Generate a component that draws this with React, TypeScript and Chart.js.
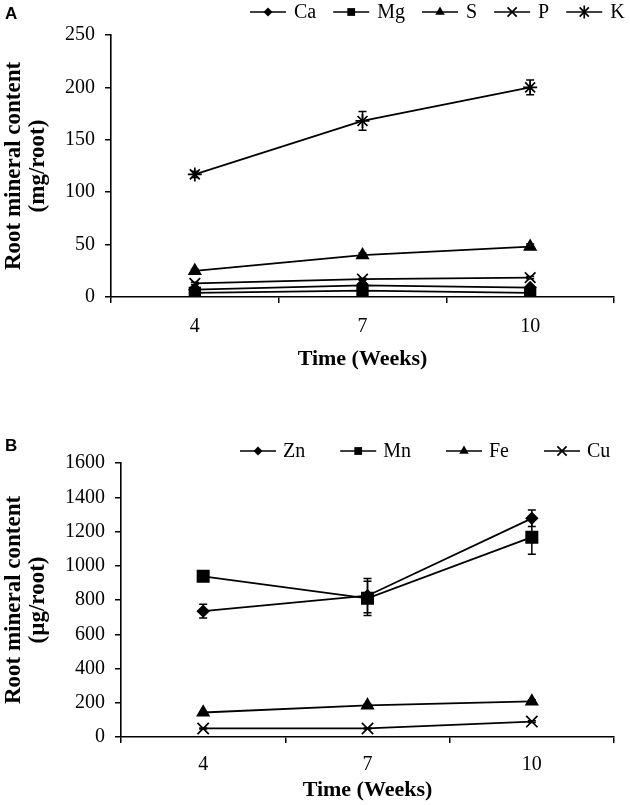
import React, { useEffect, useRef } from 'react';
import { Chart, registerables } from 'chart.js';

Chart.register(...registerables);

// ---------- data ----------
const weeks = ['4', '7', '10'];

// Panel A: root macro-mineral content (mg/root)
const caValues = [7, 11, 9];
const caErrors = [1, 1, 1];
const mgValues = [4, 6, 4];
const mgErrors = [0.5, 0.5, 0.5];
const sValues = [25, 40, 48];
const sErrors = [1.5, 2, 2.5];
const pValues = [13, 17, 18.5];
const pErrors = [1, 1, 1];
const kValues = [117, 168, 200];
const kErrors = [3, 9, 7];
const aTickMin = 0;
const aTickMax = 250;
const aTickStep = 50;

// Panel B: root micro-mineral content (µg/root)
const znValues = [735, 825, 1277];
const znErrors = [40, 100, 48];
const mnValues = [938, 810, 1167];
const mnErrors = [10, 100, 100];
const feValues = [143, 185, 208];
const feErrors = [5, 6, 8];
const cuValues = [50, 50, 90];
const cuErrors = [3, 3, 5];
const bTickMin = 0;
const bTickMax = 1600;
const bTickStep = 200;

const BLACK = '#000';
const SERIF = '"Liberation Serif", "Times New Roman", serif';

function drawMarker(ctx: CanvasRenderingContext2D, style: string, x: number, y: number, r: number) {
  ctx.beginPath();
  if (style === 'rectRot') {
    ctx.moveTo(x - r, y);
    ctx.lineTo(x, y - r);
    ctx.lineTo(x + r, y);
    ctx.lineTo(x, y + r);
    ctx.closePath();
    ctx.fill();
  } else if (style === 'rect') {
    const s = r * Math.SQRT1_2;
    ctx.rect(x - s, y - s, 2 * s, 2 * s);
    ctx.fill();
  } else if (style === 'triangle') {
    const a = (2 * Math.PI) / 3;
    ctx.moveTo(x, y - r);
    ctx.lineTo(x + Math.sin(a) * r, y - Math.cos(a) * r);
    ctx.lineTo(x + Math.sin(2 * a) * r, y - Math.cos(2 * a) * r);
    ctx.closePath();
    ctx.fill();
  } else if (style === 'crossRot' || style === 'star') {
    const s = r * Math.SQRT1_2;
    ctx.moveTo(x - s, y - s);
    ctx.lineTo(x + s, y + s);
    ctx.moveTo(x - s, y + s);
    ctx.lineTo(x + s, y - s);
    if (style === 'star') {
      ctx.moveTo(x, y - r);
      ctx.lineTo(x, y + r);
    }
    ctx.stroke();
  }
}

const errorBarPlugin = {
  id: 'errorBars',
  afterDatasetsDraw(chart: any) {
    const ctx = chart.ctx;
    const yScale = chart.scales.y;
    ctx.save();
    ctx.strokeStyle = BLACK;
    ctx.lineWidth = 1.5;
    chart.data.datasets.forEach((ds: any, i: number) => {
      const meta = chart.getDatasetMeta(i);
      (ds.errors || []).forEach((e: number, j: number) => {
        const pt = meta.data[j];
        const v = ds.data[j];
        const top = yScale.getPixelForValue(v + e);
        const bot = yScale.getPixelForValue(v - e);
        const x = pt.x;
        ctx.beginPath();
        ctx.moveTo(x, top);
        ctx.lineTo(x, bot);
        ctx.moveTo(x - 4, top);
        ctx.lineTo(x + 4, top);
        ctx.moveTo(x - 4, bot);
        ctx.lineTo(x + 4, bot);
        ctx.stroke();
      });
    });
    ctx.restore();
  },
};

const panelLegendPlugin = {
  id: 'panelLegend',
  afterDraw(chart: any, _args: any, opts: any) {
    const ctx = chart.ctx;
    ctx.save();
    ctx.fillStyle = BLACK;
    ctx.strokeStyle = BLACK;
    ctx.textBaseline = 'middle';
    ctx.textAlign = 'left';
    ctx.font = `20px ${SERIF}`;
    let x = opts.x;
    const y = opts.y;
    chart.data.datasets.forEach((ds: any) => {
      ctx.lineWidth = 1.7;
      ctx.beginPath();
      ctx.moveTo(x, y);
      ctx.lineTo(x + opts.seg, y);
      ctx.stroke();
      drawMarker(ctx, ds.pointStyle, x + opts.seg / 2, y, ds.legendRadius);
      const tx = x + opts.seg + opts.textGap;
      ctx.fillText(ds.label, tx, y + 1);
      x = tx + ctx.measureText(ds.label).width + opts.gap;
    });
    ctx.font = 'bold 17px "Liberation Sans", Arial, sans-serif';
    ctx.fillText(opts.letter, 5, opts.letterY);
    ctx.restore();
  },
};

function makeDataset(label: string, data: number[], errors: number[], pointStyle: string, radius: number, legendRadius: number) {
  return {
    label,
    data,
    errors,
    pointStyle,
    pointRadius: radius,
    pointHoverRadius: radius,
    legendRadius,
    borderColor: BLACK,
    backgroundColor: BLACK,
    pointBackgroundColor: BLACK,
    pointBorderColor: BLACK,
    borderWidth: 1.8,
    pointBorderWidth: 1.7,
    tension: 0,
    fill: false,
  } as any;
}

function buildConfig(p: {
  datasets: any[];
  min: number;
  max: number;
  step: number;
  unit: string;
  yWidth: number;
  padTop: number;
  xHeight: number;
  xTickPad: number;
  xTitlePadBottom: number;
  legend: any;
}) {
  const tickFont = { family: SERIF, size: 20 };
  const titleFont = { family: SERIF, weight: 'bold' as const };
  return {
    type: 'line' as const,
    data: { labels: weeks, datasets: p.datasets },
    plugins: [errorBarPlugin, panelLegendPlugin],
    options: {
      responsive: false,
      maintainAspectRatio: false,
      animation: false as const,
      layout: { padding: { top: p.padTop, right: 16, left: 0, bottom: 0 } },
      plugins: {
        legend: { display: false },
        tooltip: { enabled: false },
        panelLegend: p.legend,
      },
      scales: {
        x: {
          type: 'category' as const,
          offset: true,
          grid: {
            display: true,
            offset: true,
            drawOnChartArea: false,
            drawTicks: true,
            tickLength: 6,
            color: BLACK,
            lineWidth: 1.5,
          },
          border: { display: true, color: BLACK, width: 1.6 },
          ticks: { color: BLACK, font: tickFont, padding: p.xTickPad, maxRotation: 0 },
          title: {
            display: true,
            text: 'Time (Weeks)',
            color: BLACK,
            font: { ...titleFont, size: 22, lineHeight: 1.2 },
            padding: { top: 0, bottom: p.xTitlePadBottom },
          },
          afterFit(scale: any) {
            scale.height = p.xHeight;
          },
        },
        y: {
          min: p.min,
          max: p.max,
          grid: {
            display: true,
            drawOnChartArea: false,
            drawTicks: true,
            tickLength: 6,
            color: BLACK,
            lineWidth: 1.5,
          },
          border: { display: true, color: BLACK, width: 1.6 },
          ticks: {
            stepSize: p.step,
            color: BLACK,
            font: tickFont,
            padding: 10,
            callback: (v: any) => String(v),
          },
          title: {
            display: true,
            text: ['Root mineral content', p.unit],
            color: BLACK,
            font: { ...titleFont, size: 23, lineHeight: 1.05 },
            padding: { top: 2, bottom: 0 },
          },
          afterFit(scale: any) {
            scale.width = p.yWidth;
          },
        },
      },
    },
  };
}

function PanelChart({ height, makeConfig }: { height: number; makeConfig: () => any }) {
  const ref = useRef<HTMLCanvasElement>(null);
  useEffect(() => {
    const chart = new Chart(ref.current as HTMLCanvasElement, makeConfig());
    return () => chart.destroy();
  }, []);
  return (
    <canvas
      ref={ref}
      width={630}
      height={height}
      style={{ display: 'block', width: 630, height }}
    />
  );
}

const configA = () =>
  buildConfig({
    datasets: [
      makeDataset('Ca', caValues, caErrors, 'rectRot', 5.5, 4.5),
      makeDataset('Mg', mgValues, mgErrors, 'rect', 7.5, 5.5),
      makeDataset('S', sValues, sErrors, 'triangle', 6.5, 5.5),
      makeDataset('P', pValues, pErrors, 'crossRot', 7.5, 6.5),
      makeDataset('K', kValues, kErrors, 'star', 7, 6.5),
    ],
    min: aTickMin,
    max: aTickMax,
    step: aTickStep,
    unit: '(mg/root)',
    yWidth: 111,
    padTop: 35,
    xHeight: 93,
    xTickPad: 12,
    xTitlePadBottom: 17,
    legend: { x: 250, y: 12, seg: 36, textGap: 8, gap: 17, letter: 'A', letterY: 14 },
  });

const configB = () =>
  buildConfig({
    datasets: [
      makeDataset('Zn', znValues, znErrors, 'rectRot', 5.5, 4.5),
      makeDataset('Mn', mnValues, mnErrors, 'rect', 8, 5.5),
      makeDataset('Fe', feValues, feErrors, 'triangle', 6.5, 5.5),
      makeDataset('Cu', cuValues, cuErrors, 'crossRot', 8, 6.5),
    ],
    min: bTickMin,
    max: bTickMax,
    step: bTickStep,
    unit: '(µg/root)',
    yWidth: 121,
    padTop: 73,
    xHeight: 68,
    xTickPad: 10,
    xTitlePadBottom: 1,
    legend: { x: 240, y: 61, seg: 36, textGap: 7, gap: 35, letter: 'B', letterY: 56 },
  });

export default function App() {
  return (
    <div
      style={{
        position: 'absolute',
        left: 0,
        top: 0,
        width: 630,
        height: 805,
        background: '#fff',
        overflow: 'hidden',
      }}
    >
      <PanelChart height={390} makeConfig={configA} />
      <PanelChart height={415} makeConfig={configB} />
    </div>
  );
}
